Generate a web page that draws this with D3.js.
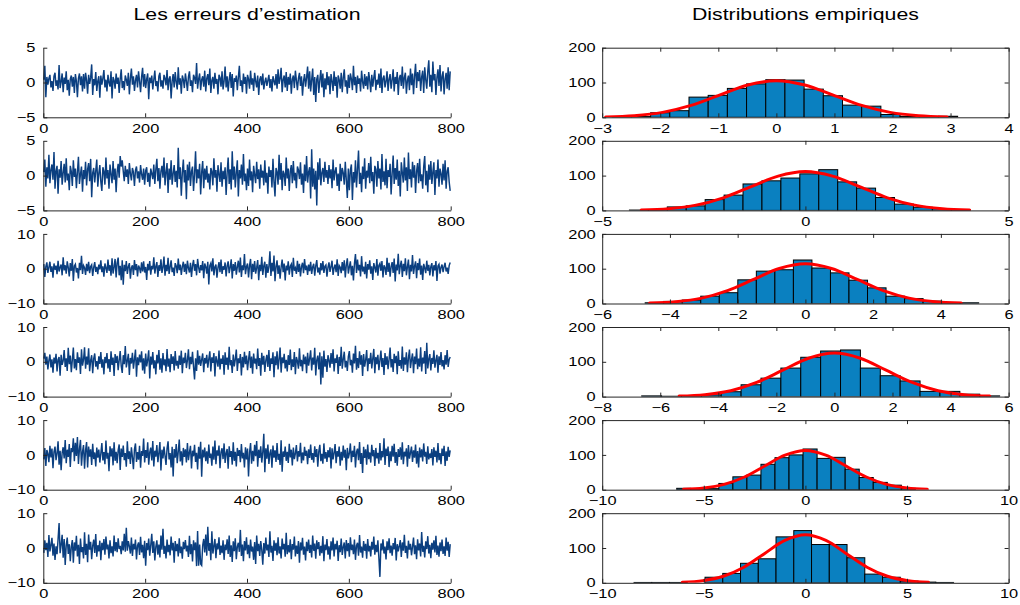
<!DOCTYPE html>
<html><head><meta charset="utf-8">
<script src="https://cdn.jsdelivr.net/npm/d3@7"></script>
<style>
body{margin:0;background:#fff;}
svg{display:block;font-family:"Liberation Sans",Arial,Helvetica,sans-serif;}
</style></head><body>
<svg id="chart" width="1020" height="605"></svg>
<script>
// ---------------- DATA ----------------
const leftTitle = "Les erreurs d’estimation";
const rightTitle = "Distributions empiriques";

// estimation errors (every second sample of 800)
const err1 = [0.4,2.4,-2.1,0.8,-0.3,0.6,1.1,-0.7,0.2,-1.2,0.9,1.4,-0.5,0.3,-1.0,2.5,-0.8,0.1,1.3,-1.4,
0.7,-0.2,1.6,-1.1,0.4,-1.9,0.5,1.0,-0.6,0.8,-1.5,1.2,0.2,-2.1,0.6,1.3,-0.4,0.9,-1.3,1.2,
-0.9,1.4,0.3,-1.6,1.1,-0.2,0.7,2.6,-1.8,0.5,-0.4,1.5,-1.2,0.2,0.9,-2.2,1.0,-0.3,0.6,1.8,
-0.7,0.4,-1.3,1.1,0.0,-0.6,1.6,-2.3,0.8,0.3,-0.9,1.3,-0.2,0.7,-1.5,0.5,1.9,-0.8,0.2,-1.1,
1.0,0.4,-0.5,1.4,-1.7,0.6,2.0,-0.3,0.9,-1.2,0.3,1.1,-0.7,1.6,0.2,-1.4,0.8,2.1,-0.6,1.2,
-0.8,0.5,1.3,-2.4,0.7,-0.1,1.0,-1.0,0.4,1.7,-0.5,0.2,-1.3,0.9,1.4,-0.6,0.3,-0.9,1.1,0.6,
-0.4,1.8,-1.1,0.5,0.9,-2.3,0.2,1.2,-0.7,1.5,0.1,-1.0,2.2,-0.3,0.6,-1.6,1.0,0.4,-0.8,1.3,
0.2,-1.2,0.8,1.6,-0.5,0.3,-1.4,1.1,0.7,-0.2,2.8,-0.9,0.5,1.3,-1.1,0.4,0.9,-0.6,1.7,-1.3,
0.6,1.2,-0.4,2.0,-1.5,0.3,0.8,-0.9,1.4,-0.2,0.5,-1.7,1.1,0.7,-0.6,1.6,-1.0,0.2,2.3,-0.7,
0.9,-1.3,0.4,1.5,-0.8,1.2,-2.0,0.6,0.1,1.0,-1.1,0.7,2.4,-0.5,0.3,-1.4,1.3,-0.2,0.8,-1.6,
1.1,0.5,-0.9,1.7,-0.3,0.6,-1.2,1.4,0.2,-0.7,1.0,-1.8,0.4,0.9,-0.4,1.3,-1.0,0.1,0.7,-0.5,
0.3,1.1,-0.8,0.5,-1.3,0.9,0.2,-0.4,1.2,-0.9,1.9,-0.2,0.6,2.1,-1.4,0.4,1.0,-0.7,1.5,-1.2,
0.8,-0.3,1.3,-1.6,0.5,1.0,-0.8,1.7,0.3,-1.1,0.6,1.4,-0.5,0.9,-1.9,0.2,1.2,-0.6,0.7,2.3,
-0.9,1.6,-1.3,0.4,2.0,-1.8,0.8,-2.8,0.5,1.1,-1.5,0.3,1.8,-0.7,1.3,-2.1,0.6,-1.0,1.5,-0.4,
0.9,-1.7,1.2,0.2,-1.2,1.6,-0.5,0.8,-2.2,1.0,0.4,-0.9,1.4,-1.4,0.7,1.9,-0.6,0.3,-1.6,1.1,
-0.8,1.3,0.5,-1.1,2.4,-0.4,0.8,-1.5,1.0,-0.2,0.6,-1.3,1.7,0.1,-0.9,1.2,-0.5,0.9,-1.0,1.5,
0.3,-1.4,1.1,-0.6,0.7,1.8,-1.1,0.4,-0.3,1.3,-0.8,2.0,-1.5,0.6,1.0,-0.7,0.2,1.6,-1.2,0.5,
1.2,-0.9,0.4,1.9,-1.3,0.8,-0.2,1.5,-1.8,0.6,1.1,-0.5,2.3,-0.9,0.7,1.4,-1.6,0.3,1.0,-1.1,
2.0,-0.4,1.3,-1.7,0.9,2.7,-0.8,1.5,0.2,1.8,-1.2,0.8,1.7,-1.5,2.2,0.4,-0.9,1.6,3.2,-0.6,
1.1,-1.4,3.0,0.3,1.2,-1.8,0.7,1.9,-0.5,2.5,-1.3,0.9,1.6,-1.7,0.5,1.4,-0.9,2.2,-1.1,1.6];

const err2 = [0.5,2.3,-1.6,1.2,-0.4,3.0,-1.1,0.8,1.6,-0.6,3.4,-1.9,0.7,1.4,-2.6,0.9,-0.3,2.1,-1.3,0.4,
1.7,-1.0,2.5,-0.7,0.3,-2.1,1.4,0.6,-1.5,2.2,-0.2,1.0,-1.8,0.5,2.7,-1.2,0.2,1.3,-2.3,0.8,
-0.5,2.0,-1.4,0.9,1.8,-0.8,2.4,-3.1,0.4,1.1,-1.0,0.7,2.3,-1.6,0.3,1.5,-0.9,-2.2,1.2,0.6,
-1.3,2.6,-0.4,0.8,-1.9,1.6,0.2,-1.1,2.1,-0.6,1.0,-2.4,0.5,1.7,-0.3,2.8,1.3,2.2,0.6,-0.8,
1.4,-0.2,0.9,-1.2,1.8,0.3,-0.7,1.1,0.5,-1.5,0.8,1.3,-0.4,0.6,-1.0,1.5,0.2,-0.6,1.0,-1.3,
0.7,1.2,-0.9,0.4,-1.6,1.0,0.3,-0.5,1.6,-1.2,0.9,2.4,-0.8,1.1,-1.9,0.6,1.4,-0.3,2.6,-1.4,
0.5,1.8,-2.5,1.0,-0.6,2.2,-1.3,0.3,1.5,-0.9,0.7,-1.7,4.0,-0.5,1.2,-2.9,0.4,2.3,-1.0,0.8,
-3.4,1.6,-0.7,2.0,-1.5,0.6,1.3,-2.2,0.2,3.5,-1.1,0.9,-0.4,1.7,-2.7,0.5,2.1,-1.8,1.0,-0.6,
1.4,-1.0,0.3,-2.0,1.1,0.6,-1.4,2.5,-0.3,0.8,-2.3,1.5,0.2,-0.9,1.9,-1.6,0.7,-0.5,1.2,-2.8,
0.4,2.6,-1.2,0.9,-2.0,3.5,-0.6,1.3,-1.7,0.5,2.2,-3.0,0.8,-0.4,1.6,-1.3,3.1,-0.8,0.3,-2.1,
1.0,-1.5,2.3,-0.7,0.6,-2.4,1.4,0.1,-1.1,2.0,-0.5,0.9,-1.9,1.6,-0.3,0.7,-1.4,2.2,-1.0,0.4,
-2.6,1.3,-0.2,0.8,-1.7,2.4,-0.9,-3.0,1.1,0.5,-1.3,3.0,-0.6,1.8,-2.1,0.7,0.2,-1.5,2.6,-0.4,
1.0,-2.2,0.6,1.5,-1.1,2.1,-0.7,0.4,-1.8,1.3,0.8,-0.5,1.9,-1.3,0.3,-2.5,1.6,-0.8,2.8,-1.0,
0.5,1.2,-3.3,3.8,-1.6,1.0,-2.0,0.7,-4.3,1.9,-0.6,2.5,-1.4,0.4,1.1,-0.9,2.0,-0.3,0.8,-1.2,
1.5,-0.4,0.9,-1.8,2.3,-0.7,0.6,1.2,-1.5,0.3,-2.2,1.7,-0.8,1.1,0.4,-1.3,2.0,-0.6,-3.2,1.0,
-2.1,0.8,1.6,-3.5,0.5,-1.0,2.2,-1.7,0.9,3.6,-1.2,0.4,-2.4,1.3,-0.5,2.5,-1.9,0.7,-0.3,1.8,
-1.1,2.7,-0.8,0.5,-2.6,1.4,0.9,-1.6,2.1,-0.4,1.0,-2.0,3.1,-0.9,0.6,-1.4,2.4,-1.8,0.8,-0.2,
1.7,-2.7,0.3,2.9,-1.2,1.1,-0.6,2.3,-1.5,0.7,-3.0,1.9,0.4,-1.0,2.6,-0.7,1.2,-2.2,3.3,-0.5,
0.9,-1.7,2.0,-0.3,1.5,-2.5,0.6,1.8,-1.1,2.4,-0.8,0.2,-1.9,1.3,2.8,-1.4,0.7,-2.4,1.6,-0.6,
2.1,-1.2,0.5,1.9,-2.8,0.8,-0.4,2.3,-1.6,1.0,0.3,-1.3,1.7,-0.7,2.2,-1.9,0.6,1.2,-0.9,-2.2];

const err3 = [1.3,-2.4,0.6,1.8,-1.2,0.4,2.0,-0.9,0.7,-2.6,1.5,-0.3,0.9,-1.6,2.3,-0.8,0.4,1.2,-1.9,3.3,
-0.5,1.0,-1.4,2.1,0.3,-2.2,1.6,-0.6,2.8,-3.5,0.8,1.3,-1.1,0.2,-2.8,1.7,-0.4,3.7,-1.5,0.9,
0.3,-1.8,1.4,-0.7,2.0,-1.3,0.6,1.1,-2.1,0.4,1.9,-0.9,0.5,-1.6,1.2,-0.2,2.4,-1.0,0.7,-2.3,
1.5,0.2,-1.2,2.6,-0.6,1.0,-2.0,3.0,-1.4,0.5,2.8,-2.5,1.7,3.2,-1.9,0.8,-3.3,2.4,-4.6,1.1,
-0.7,2.2,-1.5,0.6,1.6,-2.9,0.3,1.0,-1.8,2.5,-0.4,1.3,-2.2,0.9,0.2,-1.3,1.8,-0.8,2.1,-1.1,
0.5,-3.2,1.4,-0.5,2.2,-1.7,0.8,-0.2,3.3,-1.4,0.6,1.9,-2.4,1.0,-0.6,2.7,-1.2,0.4,3.5,-2.0,
1.1,-0.7,3.1,-1.5,0.5,2.4,-1.0,0.3,-2.1,1.6,0.8,-1.3,2.9,-0.4,1.2,-1.8,0.6,2.0,-0.9,1.4,
-1.6,2.3,0.2,-1.1,1.7,-2.4,0.9,2.5,-0.6,1.3,-1.9,2.8,0.4,-1.2,1.0,-0.5,2.2,-2.7,1.5,0.6,
-1.4,2.0,-4.5,0.9,1.6,-0.8,3.0,-1.9,0.5,1.2,-2.6,0.3,1.9,-1.0,2.6,-1.5,0.7,-0.3,1.8,-2.2,
0.8,2.1,-1.3,0.4,2.7,-2.8,1.3,-0.6,1.9,-1.7,0.5,2.3,-1.1,3.2,-2.4,1.0,-0.4,4.2,-1.6,0.6,
1.5,-2.5,0.9,2.8,-3.0,1.4,-0.9,2.2,-1.4,0.3,2.5,-3.3,1.1,-0.7,3.4,-1.8,0.8,2.0,-2.6,1.3,
-1.2,0.5,5.0,-2.1,1.7,-0.8,3.8,-3.6,0.6,2.4,-1.5,1.0,-2.9,0.4,2.6,-1.0,1.5,-3.4,0.9,-0.5,
2.1,-1.7,0.7,1.3,-2.4,3.1,-0.6,0.2,-1.5,2.3,-0.9,1.4,-2.2,0.6,1.7,-1.3,2.8,-0.4,0.9,-1.8,
1.2,-0.7,2.0,-1.5,0.5,1.4,-2.0,0.8,2.5,-1.1,0.3,-1.7,1.6,-0.5,2.2,-1.2,0.7,1.1,-2.3,0.4,
1.8,-0.9,0.6,2.3,-1.8,0.2,1.2,-1.0,2.7,-2.1,0.9,0.4,-1.3,1.9,-0.6,2.4,-2.5,1.0,3.0,-1.4,
0.5,2.1,-1.9,0.8,-3.4,1.5,4.2,-1.2,2.6,-0.5,1.1,-2.2,3.6,-0.8,0.6,-1.6,2.0,-2.8,1.3,-0.3,
2.4,-1.4,0.7,-3.2,1.6,0.4,-1.1,2.8,-2.0,0.9,1.5,-0.6,2.2,-2.5,1.0,0.3,-1.8,3.1,-0.9,1.7,
-2.3,0.6,1.9,-1.2,2.9,-3.7,1.2,-0.5,4.3,-1.6,0.8,2.3,-2.4,1.4,-0.7,3.0,-1.9,0.5,2.6,-3.0,
1.1,-0.8,3.9,-1.5,0.7,2.1,-2.7,1.6,-0.4,2.9,-1.7,0.9,-3.2,1.4,0.2,-1.3,2.3,-0.6,1.1,-1.9,
0.6,1.6,-2.2,1.0,-0.5,2.2,-3.5,0.8,1.3,-1.4,0.4,1.2,-1.0,0.6,1.7,-0.8,0.3,-1.5,0.9,1.8];

const err4 = [0.9,2.6,-0.8,1.5,-2.2,0.4,2.1,-1.6,0.7,-3.1,1.2,-0.5,2.3,-2.8,0.6,1.4,-4.0,2.0,-0.9,0.3,
3.4,-1.5,1.0,-2.6,4.0,-0.7,1.8,-3.0,0.5,4.1,-1.9,0.8,-2.4,2.7,-0.3,1.3,-3.5,3.6,-1.1,0.6,
4.2,-2.0,1.5,-0.8,3.9,-2.7,0.4,1.9,-3.3,0.9,2.4,-1.4,0.2,-2.2,1.6,-0.6,2.8,-1.7,0.7,-3.6,
1.4,-0.4,2.5,-1.9,0.8,-2.9,3.0,-0.9,1.2,-4.1,2.2,-0.3,1.7,-2.4,0.5,3.1,-1.2,-3.2,1.9,-0.7,
4.5,-1.6,0.3,2.3,-3.8,1.1,-0.5,2.6,-2.0,0.7,3.5,-4.3,1.3,-1.0,2.1,-0.2,3.0,-2.5,1.0,-3.4,
2.4,-1.3,0.6,3.3,-4.8,1.5,-0.8,2.8,-1.9,0.4,-3.6,2.0,-0.5,3.4,-2.3,1.0,-3.1,2.5,-1.0,0.7,
-2.7,3.7,-1.4,0.9,-3.0,2.2,-0.6,1.6,-2.5,3.1,-1.1,0.3,-2.0,1.8,-0.9,3.2,-3.3,1.2,-0.4,2.6,
-1.8,0.5,3.6,-2.1,1.4,-0.7,2.9,-1.5,-5.1,1.0,-2.6,3.3,-0.8,1.7,-1.2,0.6,2.4,-3.0,1.1,-0.5,
2.0,-1.7,0.8,3.0,-2.8,1.3,-0.3,2.5,-4.2,1.6,0.2,-1.4,3.2,-2.2,0.9,-0.6,1.9,-3.7,2.7,-0.9,
1.2,-2.3,4.3,-1.0,0.5,-3.2,2.1,-1.3,0.7,3.5,-2.6,1.0,-0.4,2.2,-3.9,1.4,-1.6,2.9,-0.7,1.8,
-2.4,0.6,3.1,-1.8,1.5,-3.4,2.4,-0.5,0.9,-2.1,3.8,-1.2,1.1,-4.0,2.6,-0.8,1.7,-2.9,0.4,2.0,
-1.5,3.4,-2.6,1.0,-0.6,2.7,-4.4,1.6,-1.0,3.0,-2.2,0.8,4.1,-3.1,1.3,-0.4,2.3,-1.9,0.6,-2.8,
1.9,-0.9,3.5,-2.4,0.7,-1.5,2.8,-3.6,1.4,0.2,-2.0,3.9,-1.3,0.6,-2.7,2.1,-0.7,1.5,-3.3,2.6,
-1.1,0.9,3.3,-2.5,1.2,-0.8,4.0,-3.9,0.5,1.8,-2.2,2.7,-6.5,1.6,-4.6,3.2,-1.4,0.8,-2.9,1.9,
0.4,-1.7,2.5,-0.6,3.6,-2.8,1.0,-0.3,2.1,-3.5,1.4,-1.2,4.3,-2.0,0.7,2.9,-1.6,0.3,-2.6,1.5,
3.1,-1.0,0.6,-3.1,2.4,-0.5,4.6,-2.3,1.1,-1.8,3.0,-0.8,1.9,-4.1,2.2,-1.4,0.5,3.4,-2.7,1.0,
-0.6,2.6,-1.9,0.9,3.7,-3.3,1.4,-0.7,2.0,-2.4,0.4,3.2,-1.5,1.1,-3.8,2.5,-0.9,1.6,-2.1,0.7,
4.1,-1.6,0.8,-2.9,2.3,-0.4,1.7,-3.6,3.0,-1.2,0.5,-2.0,4.4,-2.6,1.3,-0.8,2.7,-3.0,1.0,3.5,
-1.8,0.6,2.4,-3.3,1.5,-0.7,3.8,-2.1,0.9,-1.4,4.2,-2.8,1.2,-0.5,3.1,-3.5,5.5,-1.9,0.8,2.2,
-2.5,1.1,-0.6,3.3,-1.7,0.4,2.0,-3.1,1.6,-0.9,2.8,-1.3,0.5,-2.2,1.9,-0.8,3.4,-1.5,0.7,1.4];

const err5 = [-1.3,2.0,-3.2,1.4,0.3,-2.1,2.6,-0.7,1.8,-3.8,0.9,2.4,-1.5,0.4,3.9,-2.8,1.2,-4.4,0.6,2.2,
-1.0,4.3,-2.4,1.5,-0.6,3.1,-3.5,2.0,0.8,4.8,-1.8,3.5,-0.3,5.1,-2.6,1.7,4.3,-3.1,0.9,2.8,
-4.0,1.3,3.7,-3.6,2.4,-0.5,1.6,-2.9,3.2,-1.2,0.7,-3.3,2.1,-0.8,1.5,-2.2,0.4,3.4,-1.6,0.8,
-2.7,4.1,-1.1,0.6,-4.7,2.5,-0.4,1.9,-3.0,3.6,-1.7,0.9,-2.4,1.3,3.0,-4.3,1.8,-0.6,2.7,-1.5,
0.5,-3.4,3.9,-1.2,1.0,-2.6,2.2,-0.7,-4.1,1.6,3.3,-2.0,0.8,-1.4,2.6,-3.7,1.1,-0.3,4.7,-2.2,
1.4,-0.9,3.6,-2.8,0.7,2.1,-1.6,4.0,-3.3,1.2,-0.5,2.8,-2.1,0.6,3.7,-4.5,1.5,-1.0,2.4,-0.2,
-2.9,1.8,3.9,-1.3,0.5,-3.6,2.3,-6.2,1.7,-0.8,3.1,-2.4,0.9,4.4,-1.9,1.0,-3.0,2.0,-0.6,1.6,
-2.2,3.4,-1.5,0.7,2.6,-3.9,1.2,-0.4,2.9,-2.0,0.6,-4.2,2.3,-1.1,3.8,-6.3,1.5,-0.7,2.1,-1.8,
1.0,-2.5,3.0,-0.9,0.4,-3.1,2.4,-1.4,4.1,-2.7,1.3,-0.2,2.7,-3.8,0.8,1.9,-1.2,3.3,-2.3,0.5,
1.7,-4.0,2.5,-0.6,1.1,-2.8,3.6,-1.7,0.9,-3.3,2.0,-0.3,1.4,-2.1,3.1,-1.0,0.6,-3.6,2.2,-1.3,
1.8,-6.2,0.7,3.4,-2.5,1.2,-1.8,2.9,-0.4,4.0,-3.4,1.5,-0.9,2.5,-2.2,0.8,6.1,-5.0,1.9,-1.1,
3.0,-2.6,0.5,1.6,-3.7,2.7,-0.8,1.3,-2.0,3.4,-1.4,0.3,-2.9,4.2,-4.8,1.0,-0.6,2.4,-1.7,0.9,
-2.3,3.2,-0.7,1.5,-3.0,2.1,-1.2,0.4,2.8,-1.9,1.1,-0.5,3.5,-2.4,0.7,-1.6,2.3,-0.3,1.2,-2.7,
1.6,-0.9,3.0,-1.4,0.5,-2.2,2.5,-0.6,1.7,-3.4,1.0,2.9,-1.8,0.3,-2.5,3.3,-1.1,0.8,-2.0,1.4,
-0.7,2.2,-3.9,1.9,-1.3,0.6,3.1,-2.4,1.1,-0.5,2.4,-3.1,0.9,-1.6,2.7,-0.8,1.5,-4.4,2.0,-1.0,
0.4,3.3,-2.1,1.2,-0.6,2.6,-3.6,0.8,1.8,-1.5,3.7,-2.6,0.5,-5.2,2.3,-0.9,1.6,-2.8,3.0,-1.2,
0.7,-2.2,2.9,-0.4,1.4,-3.2,2.0,-1.0,0.6,-2.5,3.4,-1.6,1.1,-0.7,4.8,-2.9,1.8,-0.3,2.4,-3.5,
1.0,-1.8,2.6,-0.5,3.2,-2.3,0.8,-3.1,1.7,-0.6,2.2,-1.4,3.6,-2.7,0.9,-0.4,1.9,-3.4,2.8,-1.1,
0.6,2.4,-2.0,1.3,-0.8,3.0,-2.5,1.1,-3.6,2.1,-0.7,1.6,-1.9,3.3,-0.5,0.9,-2.6,2.5,-1.3,0.4,
-0.9,1.7,-3.0,2.2,-0.6,1.2,-2.2,3.4,-1.5,0.5,-2.7,1.8,-0.3,2.6,-3.2,1.0,-1.7,2.3,-0.6,1.3];

const err6 = [-1.4,2.2,-0.6,1.5,-2.6,3.7,-1.0,0.8,2.9,-2.2,1.3,-3.4,0.5,-1.8,2.5,7.2,-1.5,0.9,3.8,-2.8,
2.6,-4.9,0.7,3.0,-1.7,1.1,-3.8,0.4,2.3,-4.2,1.6,-0.8,3.5,-2.4,0.9,-4.6,2.7,-1.2,0.3,-3.0,
4.5,-2.0,1.2,-4.1,3.9,-0.5,1.8,-3.2,0.6,2.4,-1.4,4.0,-2.5,0.8,-1.0,2.1,-3.5,1.5,-0.6,2.6,
-1.9,3.3,-0.4,1.0,-3.0,2.2,-1.5,0.5,-2.4,3.6,-0.9,1.7,-1.2,2.8,-0.3,0.6,-1.8,1.9,-0.7,4.1,
-1.1,5.8,-0.8,2.0,0.5,-1.6,3.0,-2.3,1.2,-0.4,2.4,-3.3,0.7,1.6,-2.0,3.2,-1.3,0.9,-2.9,2.1,
-5.1,1.4,-0.6,2.7,-2.2,0.8,4.1,-1.4,1.9,-3.6,0.3,2.2,-1.9,1.0,-2.7,3.6,-0.5,5.5,-1.7,0.6,
-3.0,2.4,-1.2,0.9,-2.1,3.3,-0.7,1.5,-4.2,2.0,-0.9,1.2,-2.4,2.8,-1.5,0.4,-3.1,1.8,-0.3,2.3,
-1.0,0.7,-2.6,3.5,-1.8,1.1,-3.9,2.2,-0.6,1.6,-5.2,4.9,-5.1,1.0,-4.6,-5.0,0.8,2.6,-1.3,3.9,
-2.2,6.1,-0.8,1.4,-3.5,4.8,-1.6,0.5,2.6,-2.9,1.3,-0.4,3.1,-2.0,0.7,-1.5,2.2,-3.4,1.0,-0.6,
2.5,-1.7,3.6,-2.6,0.8,-4.0,1.9,-0.9,2.8,-3.2,0.4,1.5,-1.1,5.2,-2.3,1.0,-3.8,2.0,-0.7,3.1,
-1.8,0.9,-2.9,2.4,-1.0,0.4,-3.4,1.7,-4.6,3.6,-0.9,1.2,-2.3,2.0,-0.5,-4.8,1.4,-1.6,3.0,-0.7,
1.0,-2.6,4.8,-1.3,0.6,-3.7,2.2,-0.8,1.5,-2.1,3.1,-1.6,0.5,-3.0,2.7,-0.4,1.2,-2.5,4.4,-1.8,
0.8,-1.3,2.5,-3.2,1.1,-0.5,3.3,-2.4,0.7,-1.7,2.0,-4.2,1.6,-0.7,2.9,-1.9,0.4,-3.6,1.8,-0.9,
2.4,-1.4,0.9,-2.7,3.6,-0.8,1.3,-3.1,2.2,-0.3,1.7,-2.2,0.6,-1.5,3.4,-3.8,1.0,-0.6,2.6,-1.9,
0.5,-3.3,1.9,-0.7,3.0,-2.4,1.2,-0.4,2.1,-3.7,0.8,-1.2,2.7,-2.0,0.3,1.6,-3.0,2.3,-0.9,1.4,
-2.5,3.1,-0.6,1.0,-1.8,2.4,-3.4,0.7,1.5,-2.2,3.7,-1.3,0.4,-2.8,2.0,-0.8,1.2,-3.1,2.6,-1.0,
0.6,-2.4,1.8,-0.5,3.3,-1.9,0.9,-1.2,2.2,-2.9,-8.3,1.3,-0.7,2.5,-1.6,0.4,-3.3,1.9,-0.6,2.8,
-1.5,0.7,-2.2,1.4,-0.4,2.9,-3.6,1.1,-1.0,0.5,2.3,-2.6,1.6,-0.8,3.8,-1.4,0.6,-3.0,2.1,-0.5,
1.2,-2.1,0.4,3.0,-1.8,0.8,-3.2,2.5,-0.7,1.3,-2.4,4.6,-1.1,0.6,-2.7,1.9,-0.3,3.4,-1.6,0.9,
-2.9,1.5,-0.5,2.2,-1.3,3.5,-2.0,0.7,-2.5,1.6,-0.9,2.4,-1.7,0.5,-2.3,3.0,-0.8,1.8,-2.6,1.1];

const errSeries = [err1, err2, err3, err4, err5, err6];
const errLength = 800;
const errYDomains = [[-5,5],[-5,5],[-10,10],[-10,10],[-10,10],[-10,10]];
const errYTicks = [[-5,0,5],[-5,0,5],[-10,0,10],[-10,0,10],[-10,0,10],[-10,0,10]];
const errXTicks = [0,200,400,600,800];

// histograms: first bin left edge, bin width, counts
const histStart = [-2.827, -4.33, -4.731, -6.64, -6.332, -8.434];
const histWidth = [0.3305, 0.4659, 0.5471, 0.685, 0.6908, 0.8736];
const hist1 = [1,2,13,19,58,63,83,96,108,107,81,62,35,32,8,3,2,3];
const hist2 = [1,2,10,13,31,44,76,85,93,105,117,82,64,37,18,9,5,2];
const hist3 = [2,6,10,21,31,68,93,97,125,102,88,67,45,21,14,7,3,2];
const hist4 = [2,1,1,5,14,34,53,82,113,131,134,82,60,45,15,15,7,2];
const hist5 = [4,1,3,18,37,42,73,92,100,117,90,93,59,35,21,13,4];
const hist6 = [1,1,1,0,16,27,56,69,132,150,110,110,72,25,16,5,2,1];
const histCounts = [hist1, hist2, hist3, hist4, hist5, hist6];
const histXDomains = [[-3,4],[-5,5],[-6,6],[-8,6],[-10,10],[-10,10]];
const histXTicks = [[-3,-2,-1,0,1,2,3,4],[-5,0,5],[-6,-4,-2,0,2,4,6],[-8,-6,-4,-2,0,2,4,6],[-10,-5,0,5,10],[-10,-5,0,5,10]];
const histYTicks = [0,100,200];

// fitted normal curves (read points)
const fit1X = [-2.94,-2.45,-1.96,-1.47,-0.98,-0.49,0,0.49,0.98,1.47,1.96,2.45,2.94];
const fit1Y = [1.2,4.6,14.2,34.1,63.7,92.7,105,92.7,63.7,34.1,14.2,4.6,1.2];
const fit2X = [-4.04,-3.37,-2.69,-2.02,-1.35,-0.67,0,0.67,1.35,2.02,2.69,3.37,4.04];
const fit2Y = [1.2,4.9,15.1,36.2,67.6,98.4,111.5,98.4,67.6,36.2,15.1,4.9,1.2];
const fit3X = [-4.6,-3.83,-3.06,-2.3,-1.53,-0.77,0,0.77,1.53,2.3,3.06,3.83,4.6];
const fit3Y = [1.3,5.0,15.4,37.0,69.1,100.6,114,100.6,69.1,37.0,15.4,5.0,1.3];
const fit4X = [-5.35,-4.46,-3.57,-2.68,-1.78,-0.89,0,0.89,1.78,2.68,3.57,4.46,5.35];
const fit4Y = [1.4,5.5,16.9,40.6,75.8,110.3,125,110.3,75.8,40.6,16.9,5.5,1.4];
const fit5X = [-6,-5,-4,-3,-2,-1,0,1,2,3,4,5,6];
const fit5Y = [1.2,4.9,15.2,36.5,68.2,99.3,112.5,99.3,68.2,36.5,15.2,4.9,1.2];
const fit6X = [-6.06,-5.05,-4.04,-3.03,-2.02,-1.01,0,1.01,2.02,3.03,4.04,5.05,6.06];
const fit6Y = [1.5,6.1,18.7,44.8,83.7,121.8,138,121.8,83.7,44.8,18.7,6.1,1.5];
const fitX = [fit1X, fit2X, fit3X, fit4X, fit5X, fit6X];
const fitY = [fit1Y, fit2Y, fit3Y, fit4Y, fit5Y, fit6Y];

// ---------------- LAYOUT ----------------
const LEFT = [43.3, 450.7];
const RIGHT = [602.2, 1008.6];
const ROW_TOP = 47.7, ROW_STEP = 93.1, ROW_H = 69.6;
const AXIS_COLOR = "#262626";
const LINE_COLOR = "#0b3f80";
const BAR_COLOR = "#0a80c0";
const FIT_COLOR = "#ff0000";
const TICK_FS = 12.6, TICK_SX = 1.3;
const TITLE_FS = 16, TITLE_SX = 1.33;

const svg = d3.select("#chart");

function styleAxis(g) {
  g.select(".domain").attr("stroke", AXIS_COLOR).attr("stroke-width", 1);
  g.selectAll(".tick line").attr("stroke", AXIS_COLOR).attr("stroke-width", 1);
  g.selectAll("text").attr("fill", "#000").attr("font-size", TICK_FS)
    .attr("font-family", '"Liberation Sans", Arial, sans-serif');
}
function bottomLabels(g) {
  g.selectAll("text").attr("y", 15.4).attr("dy", 0)
    .attr("transform", `scale(${TICK_SX},1)`);
}
function leftLabels(g, gap) {
  g.selectAll("text").attr("x", -gap / TICK_SX).attr("dy", "0.33em")
    .attr("transform", `scale(${TICK_SX},1)`);
}

function titleText(cx, text) {
  svg.append("text")
    .attr("transform", `translate(${cx},19.5) scale(${TITLE_SX},1)`)
    .attr("text-anchor", "middle")
    .attr("font-size", TITLE_FS)
    .attr("fill", "#000")
    .text(text);
}
titleText((LEFT[0] + LEFT[1]) / 2, leftTitle);
titleText((RIGHT[0] + RIGHT[1]) / 2, rightTitle);

const defs = svg.append("defs");

for (let r = 0; r < 6; r++) {
  const top = ROW_TOP + r * ROW_STEP, bottom = top + ROW_H;

  // ---- left: time series ----
  const xs = d3.scaleLinear().domain([0, errLength]).range(LEFT);
  const ys = d3.scaleLinear().domain(errYDomains[r]).range([bottom, top]);
  const data = errSeries[r];
  const n = data.length;
  const line = d3.line()
    .x((d, i) => xs((i + 0.5) * errLength / n))
    .y(d => ys(d));
  svg.append("path").datum(data)
    .attr("d", line)
    .attr("fill", "none")
    .attr("stroke", LINE_COLOR)
    .attr("stroke-width", 1.45)
    .attr("stroke-linejoin", "miter");

  const gxb = svg.append("g").attr("transform", `translate(0,${bottom})`)
    .call(d3.axisBottom(xs).tickValues(errXTicks).tickSizeInner(-4).tickSizeOuter(0).tickFormat(d3.format("d")));
  styleAxis(gxb); bottomLabels(gxb);
  const gyl = svg.append("g").attr("transform", `translate(${LEFT[0]},0)`)
    .call(d3.axisLeft(ys).tickValues(errYTicks[r]).tickSizeInner(-4).tickSizeOuter(0).tickFormat(d3.format("d")));
  styleAxis(gyl); leftLabels(gyl, 8);

  // ---- right: histogram ----
  const hx = d3.scaleLinear().domain(histXDomains[r]).range(RIGHT);
  const hy = d3.scaleLinear().domain([0, 200]).range([bottom, top]);
  const clipId = "clip" + r;
  defs.append("clipPath").attr("id", clipId).append("rect")
    .attr("x", RIGHT[0]).attr("y", top - 2).attr("width", RIGHT[1] - RIGHT[0]).attr("height", ROW_H + 2);
  const gh = svg.append("g").attr("clip-path", `url(#${clipId})`);
  const bins = histCounts[r].map((c, i) => ({
    x0: histStart[r] + i * histWidth[r],
    x1: histStart[r] + (i + 1) * histWidth[r],
    c
  })).filter(b => b.c > 0);
  gh.selectAll("rect.bar").data(bins).enter().append("rect")
    .attr("class", "bar")
    .attr("x", d => hx(d.x0))
    .attr("width", d => hx(d.x1) - hx(d.x0))
    .attr("y", d => hy(d.c))
    .attr("height", d => hy(0) - hy(d.c))
    .attr("fill", BAR_COLOR)
    .attr("stroke", "#000")
    .attr("stroke-width", 1);
  const fitPts = fitX[r].map((x, i) => [x, fitY[r][i]]);
  gh.append("path").datum(fitPts)
    .attr("d", d3.line().x(d => hx(d[0])).y(d => hy(d[1])).curve(d3.curveCatmullRom.alpha(0.5)))
    .attr("fill", "none")
    .attr("stroke", FIT_COLOR)
    .attr("stroke-width", 3)
    .attr("stroke-linecap", "round");

  const hb = svg.append("g").attr("transform", `translate(0,${bottom})`)
    .call(d3.axisBottom(hx).tickValues(histXTicks[r]).tickSizeInner(-4).tickSizeOuter(0).tickFormat(d3.format("d")));
  styleAxis(hb); bottomLabels(hb);
  const ht = svg.append("g").attr("transform", `translate(0,${top})`)
    .call(d3.axisTop(hx).tickValues(histXTicks[r]).tickSizeInner(-4).tickSizeOuter(0).tickFormat(""));
  styleAxis(ht);
  const hl = svg.append("g").attr("transform", `translate(${RIGHT[0]},0)`)
    .call(d3.axisLeft(hy).tickValues(histYTicks).tickSizeInner(-4).tickSizeOuter(0).tickFormat(d3.format("d")));
  styleAxis(hl); leftLabels(hl, 6.5);
  const hr = svg.append("g").attr("transform", `translate(${RIGHT[1]},0)`)
    .call(d3.axisRight(hy).tickValues(histYTicks).tickSizeInner(-4).tickSizeOuter(0).tickFormat(""));
  styleAxis(hr);
}
</script>
</body></html>
